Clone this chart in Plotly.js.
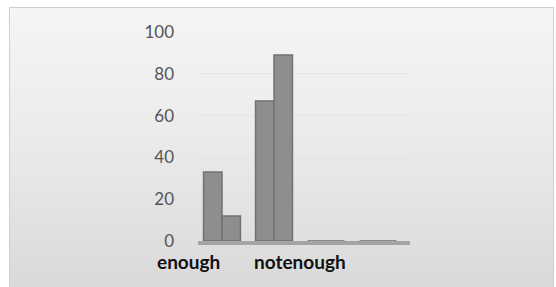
<!DOCTYPE html>
<html>
<head>
<meta charset="utf-8">
<script src="https://cdn.plot.ly/plotly-3.0.1.min.js"></script>
<style>
  html, body { margin: 0; padding: 0; background: #ffffff; }
  #frame {
    position: absolute; left: 9px; top: 7px; width: 543px; height: 290px;
    border: 1px solid #cfcfcf;
    background: linear-gradient(to bottom, #f5f5f5 0%, #ebebeb 45%, #d8d8d8 100%);
  }
  #chart { position: absolute; left: 0; top: 0; width: 556px; height: 287px; }
</style>
</head>
<body>
<div id="frame"></div>
<div id="chart"></div>
<script>
// Data
var categories = ["enough", "notenough", "", " "];
var series1 = [33, 67, 0, 0];
var series2 = [12, 89, 0, 0];
var yTicks = [0, 20, 40, 60, 80, 100];

var barStyle = {
  color: "#8e8e8e",
  line: { color: "#727272", width: 1.5 }
};

var traces = [
  { type: "bar", x: categories, y: series1, marker: barStyle, name: "Series1" },
  { type: "bar", x: categories, y: series2, marker: barStyle, name: "Series2" }
];

// category labels (placed as in the reference's perspective view)
var labelX = [-0.047, 0.481];
var annotations = categories.slice(0, 2).map(function (c, i) {
  return {
    text: "<b>" + c + "</b>", xref: "paper", yref: "paper",
    x: labelX[i], y: -0.035, xanchor: "center", yanchor: "top",
    showarrow: false,
    font: { family: "Lato, 'Open Sans', sans-serif", size: 19, color: "#111111" }
  };
});

var layout = {
  width: 556, height: 287,
  margin: { l: 198, r: 146, t: 32, b: 46 },
  paper_bgcolor: "rgba(0,0,0,0)",
  plot_bgcolor: "rgba(0,0,0,0)",
  showlegend: false,
  barmode: "group",
  bargap: 0.29,
  bargroupgap: 0,
  xaxis: {
    type: "category",
    range: [-0.4615, 3.615],
    showticklabels: false,
    showgrid: false,
    zeroline: false,
    showline: true,
    linecolor: "#a4a4a4",
    linewidth: 4,
    fixedrange: true
  },
  yaxis: {
    range: [0, 100],
    tickvals: yTicks,
    showgrid: true,
    gridcolor: "#e4e4e4",
    gridwidth: 1,
    zeroline: false,
    showline: false,
    ticks: "",
    ticklabelstandoff: 23,
    tickfont: { family: "Lato, 'Open Sans', sans-serif", size: 17, color: "#555555" },
    fixedrange: true
  },
  annotations: annotations
};

Plotly.newPlot("chart", traces, layout, { displayModeBar: false, staticPlot: true });
</script>
</body>
</html>
